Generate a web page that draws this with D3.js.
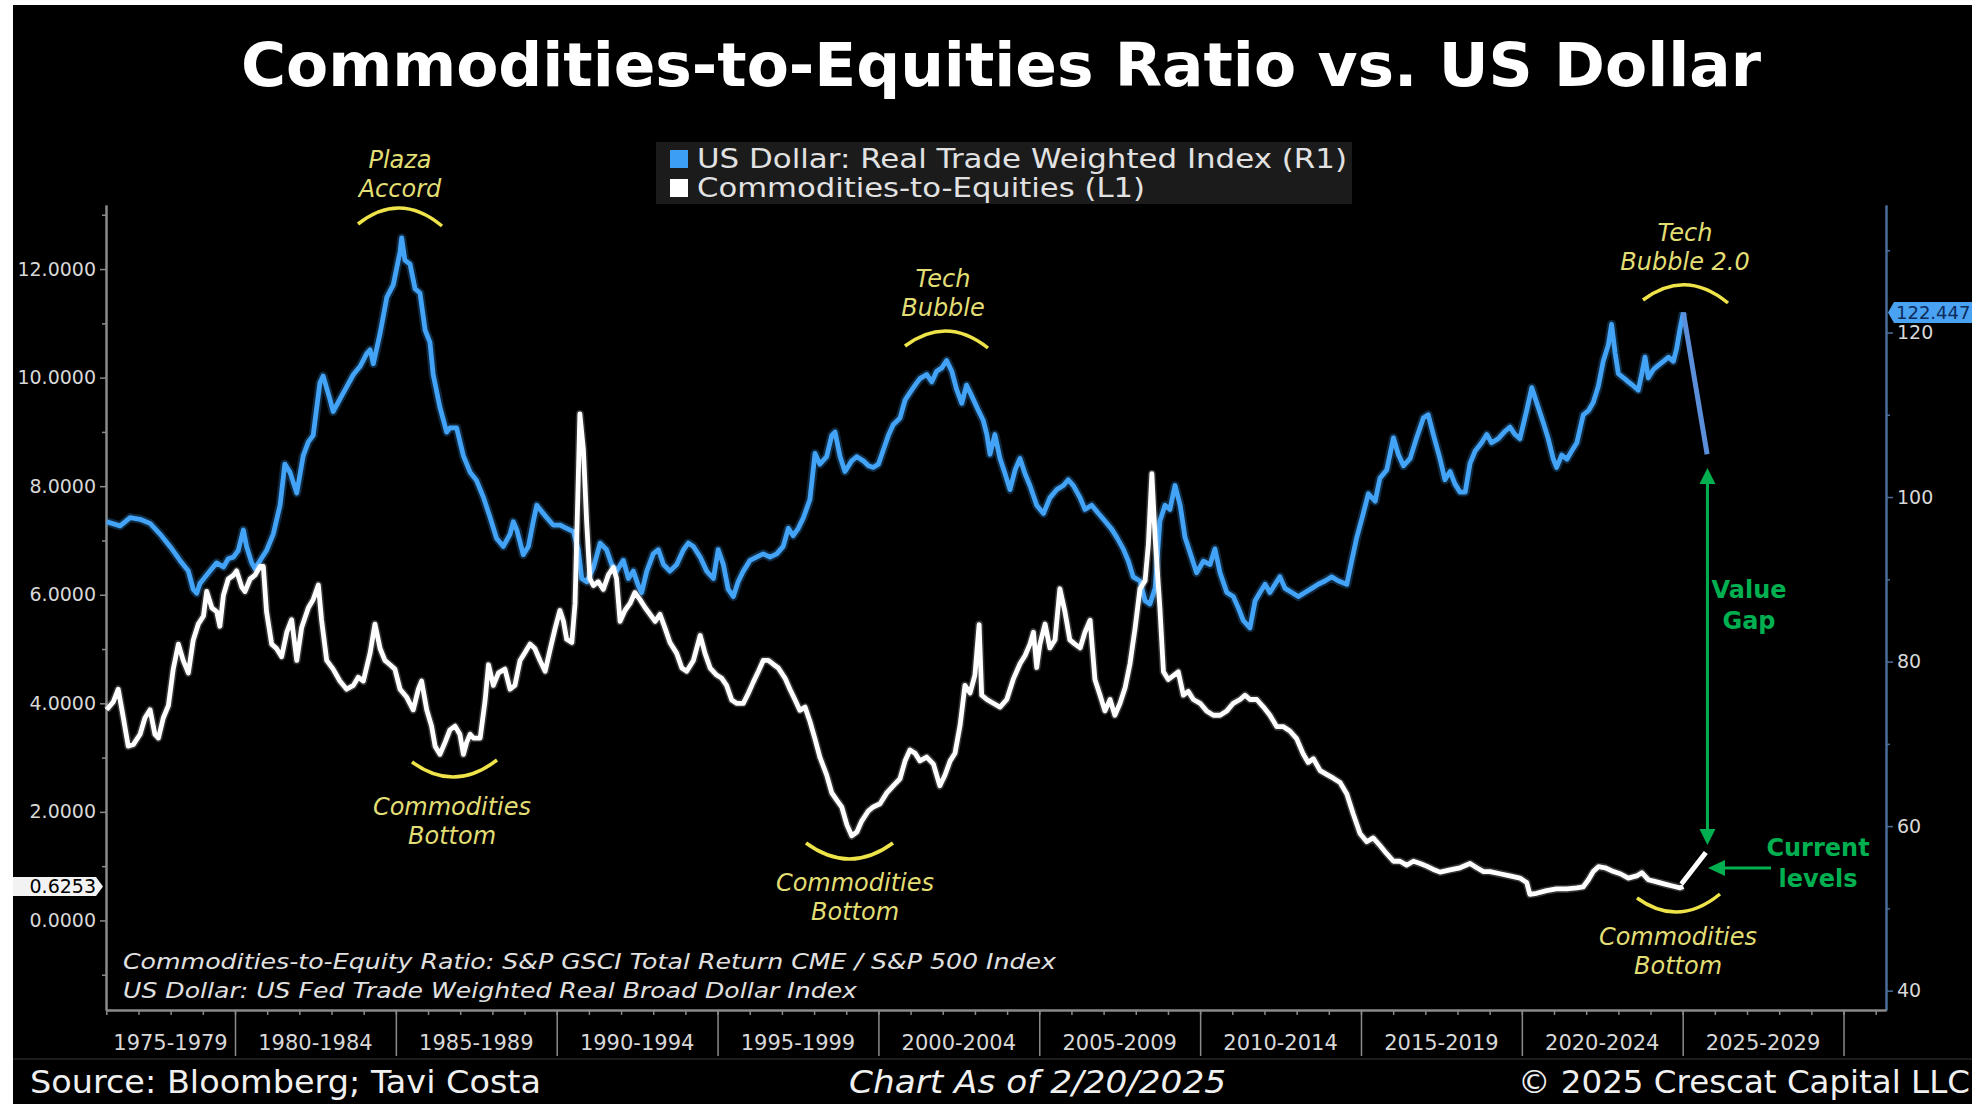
<!DOCTYPE html>
<html lang="en">
<head>
<meta charset="utf-8">
<title>Commodities-to-Equities Ratio vs. US Dollar</title>
<style>
  html, body { margin: 0; padding: 0; background: #fff; }
  svg { display: block; }
  svg text { font-family: "DejaVu Sans", sans-serif; }
</style>
</head>
<body>
<script src="https://cdn.jsdelivr.net/npm/d3@7"></script>
<script>
// US Dollar real trade weighted index (right axis), decimal years
const usdYears = [
  1976.01,1976.43,1976.74,1977.05,1977.36,1977.67,1977.98,1978.29,1978.55,1978.70,1978.81,1978.91,
  1979.22,1979.43,1979.64,1979.79,1979.95,1980.10,1980.26,1980.36,1980.52,1980.62,1980.78,1980.98,
  1981.19,1981.40,1981.55,1981.71,1981.92,1982.12,1982.28,1982.43,1982.64,1982.74,1982.95,1983.05,
  1983.26,1983.47,1983.68,1983.89,1984.09,1984.20,1984.30,1984.51,1984.72,1984.92,1985.13,1985.18,
  1985.28,1985.44,1985.60,1985.75,1985.91,1986.06,1986.16,1986.37,1986.58,1986.68,1986.89,1987.10,
  1987.31,1987.51,1987.72,1987.93,1988.13,1988.34,1988.55,1988.65,1988.76,1988.96,1989.12,1989.27,
  1989.38,1989.48,1989.69,1989.89,1990.10,1990.31,1990.52,1990.67,1990.78,1990.93,1991.14,1991.35,
  1991.55,1991.71,1991.86,1992.07,1992.23,1992.38,1992.54,1992.64,1992.80,1993.00,1993.16,1993.32,
  1993.52,1993.73,1993.94,1994.09,1994.25,1994.46,1994.66,1994.87,1995.02,1995.18,1995.33,1995.49,
  1995.64,1995.80,1996.01,1996.21,1996.42,1996.63,1996.84,1997.04,1997.20,1997.35,1997.51,1997.67,
  1997.87,1998.03,1998.18,1998.39,1998.55,1998.65,1998.81,1998.96,1999.17,1999.33,1999.53,1999.69,
  1999.84,2000.00,2000.15,2000.31,2000.46,2000.67,2000.83,2000.98,2001.14,2001.29,2001.50,2001.66,
  2001.81,2001.97,2002.12,2002.28,2002.43,2002.59,2002.74,2002.90,2003.11,2003.26,2003.37,2003.47,
  2003.62,2003.78,2003.94,2004.09,2004.25,2004.40,2004.56,2004.71,2004.92,2005.13,2005.33,2005.54,
  2005.75,2005.90,2006.06,2006.27,2006.42,2006.63,2006.84,2007.04,2007.25,2007.41,2007.61,2007.77,
  2007.92,2008.13,2008.29,2008.44,2008.60,2008.75,2008.91,2009.06,2009.22,2009.38,2009.53,2009.69,
  2009.89,2010.10,2010.31,2010.46,2010.62,2010.83,2011.03,2011.19,2011.34,2011.55,2011.71,2011.86,
  2012.02,2012.17,2012.33,2012.48,2012.64,2012.85,2013.05,2013.26,2013.47,2013.67,2013.88,2014.09,
  2014.30,2014.56,2014.71,2014.87,2015.07,2015.23,2015.44,2015.59,2015.80,2016.01,2016.16,2016.32,
  2016.53,2016.73,2016.94,2017.09,2017.25,2017.46,2017.61,2017.77,2017.92,2018.08,2018.24,2018.39,
  2018.55,2018.75,2018.91,2019.06,2019.27,2019.48,2019.63,2019.79,2019.94,2020.15,2020.31,2020.46,
  2020.67,2020.82,2020.98,2021.08,2021.24,2021.40,2021.55,2021.71,2021.91,2022.07,2022.22,2022.38,
  2022.53,2022.69,2022.79,2022.90,2023.00,2023.16,2023.31,2023.47,2023.62,2023.73,2023.83,2023.93,
  2024.09,2024.24,2024.40,2024.56,2024.71,2024.81,2024.92,2025.02
];
const usdValues = [
  97.0,96.5,97.5,97.3,96.8,95.5,94.0,92.3,91.0,88.8,88.3,89.5,
  91.0,92.0,91.5,92.5,92.7,93.5,96.0,94.0,92.0,91.3,92.3,93.5,
  95.5,99.0,104.0,103.0,100.5,105.0,106.7,107.5,113.9,114.7,111.9,110.4,
  111.9,113.4,114.9,115.9,117.4,117.9,116.2,119.9,124.3,125.8,129.8,131.5,
  128.8,128.3,125.3,124.8,120.3,118.8,114.9,110.9,107.9,108.4,108.4,105.0,
  103.0,102.0,100.0,97.5,95.0,94.0,95.5,97.0,96.0,93.0,94.0,97.0,
  99.0,98.5,97.5,96.6,96.6,96.2,95.8,93.6,90.1,89.7,91.4,94.4,
  93.6,91.8,91.0,92.3,90.1,91.0,89.2,88.4,91.0,93.1,93.6,91.8,
  91.0,91.8,93.6,94.4,94.0,92.7,91.0,90.1,93.6,91.8,88.8,87.9,
  89.7,91.0,92.3,92.7,93.1,92.7,93.1,94.0,96.2,95.3,96.2,97.5,
  99.7,105.3,104.0,104.9,107.5,107.9,104.9,103.1,104.4,104.9,104.4,103.8,
  103.6,104.0,105.7,107.5,108.8,109.6,111.8,112.7,113.6,114.4,114.9,114.0,
  115.3,115.7,116.6,115.3,113.1,111.4,113.6,112.3,110.5,109.3,107.6,105.2,
  107.6,104.7,102.8,100.9,103.3,104.7,102.8,101.4,99.0,98.0,99.9,100.9,
  101.4,102.1,101.4,99.9,98.5,99.0,98.0,97.1,96.1,95.1,93.7,92.2,
  90.3,89.8,87.4,87.0,88.9,97.1,99.0,98.5,101.4,99.0,95.1,93.2,
  90.8,92.2,91.8,93.7,90.8,88.4,87.9,86.5,85.0,84.1,87.4,88.4,
  89.4,88.4,89.4,90.3,88.9,88.4,87.9,88.4,88.9,89.4,89.8,90.3,
  89.8,89.4,92.2,95.1,98.0,100.4,99.5,102.3,103.3,107.2,105.2,103.8,
  104.7,107.2,109.6,110.0,107.6,104.6,102.1,103.1,101.6,100.6,100.6,104.1,
  105.6,106.6,107.6,106.6,107.1,108.0,108.5,107.6,107.1,110.5,113.3,111.5,
  109.0,107.1,104.6,103.6,105.1,104.6,105.6,106.6,110.0,110.5,111.5,113.5,
  116.5,118.5,121.0,117.5,115.0,114.5,114.0,113.5,113.0,115.0,117.0,114.5,
  115.5,116.0,116.5,117.0,116.5,118.0,120.5,122.447
];

// Commodities-to-equities ratio (left axis)
const ratioYears = [
  1976.01,1976.22,1976.37,1976.53,1976.68,1976.84,1977.05,1977.20,1977.36,1977.51,1977.62,1977.77,
  1977.93,1978.08,1978.24,1978.39,1978.55,1978.70,1978.86,1979.02,1979.12,1979.28,1979.43,1979.53,
  1979.64,1979.79,1979.95,1980.05,1980.21,1980.31,1980.47,1980.62,1980.78,1980.88,1980.98,1981.14,
  1981.29,1981.45,1981.61,1981.76,1981.92,1982.07,1982.28,1982.43,1982.59,1982.69,1982.85,1983.05,
  1983.26,1983.47,1983.68,1983.83,1983.99,1984.20,1984.35,1984.51,1984.66,1984.82,1984.97,1985.13,
  1985.34,1985.54,1985.70,1985.80,1985.96,1986.11,1986.22,1986.37,1986.53,1986.68,1986.84,1986.99,
  1987.10,1987.20,1987.31,1987.41,1987.62,1987.77,1987.88,1988.03,1988.19,1988.39,1988.55,1988.70,
  1988.86,1989.01,1989.17,1989.32,1989.48,1989.64,1989.79,1989.95,1990.10,1990.21,1990.31,1990.47,
  1990.57,1990.67,1990.72,1990.83,1990.93,1991.03,1991.14,1991.29,1991.45,1991.61,1991.76,1991.86,
  1991.97,1992.12,1992.28,1992.43,1992.59,1992.74,1992.90,1993.06,1993.21,1993.37,1993.52,1993.73,
  1993.89,1994.04,1994.25,1994.46,1994.61,1994.77,1994.97,1995.13,1995.28,1995.44,1995.59,1995.80,
  1995.96,1996.11,1996.27,1996.42,1996.58,1996.73,1996.89,1997.10,1997.25,1997.41,1997.56,1997.72,
  1997.87,1998.03,1998.18,1998.39,1998.55,1998.70,1998.86,1999.02,1999.17,1999.33,1999.48,1999.69,
  1999.84,2000.05,2000.26,2000.46,2000.67,2000.83,2000.98,2001.14,2001.29,2001.50,2001.71,2001.91,
  2002.07,2002.23,2002.38,2002.54,2002.69,2002.85,2003.00,2003.13,2003.21,2003.37,2003.57,2003.78,
  2003.99,2004.19,2004.40,2004.56,2004.71,2004.82,2004.92,2005.02,2005.18,2005.33,2005.49,2005.64,
  2005.80,2005.95,2006.11,2006.27,2006.42,2006.58,2006.73,2006.89,2007.04,2007.20,2007.35,2007.51,
  2007.67,2007.82,2007.98,2008.13,2008.29,2008.39,2008.50,2008.60,2008.75,2008.86,2009.01,2009.17,
  2009.32,2009.48,2009.63,2009.79,2010.00,2010.20,2010.41,2010.62,2010.83,2011.03,2011.24,2011.40,
  2011.55,2011.76,2011.97,2012.17,2012.38,2012.59,2012.79,2013.00,2013.21,2013.36,2013.52,2013.73,
  2013.93,2014.14,2014.35,2014.56,2014.76,2014.97,2015.18,2015.38,2015.59,2015.80,2016.01,2016.21,
  2016.42,2016.63,2016.84,2017.04,2017.25,2017.46,2017.77,2018.08,2018.39,2018.60,2018.81,2019.01,
  2019.32,2019.63,2019.94,2020.15,2020.25,2020.46,2020.77,2021.08,2021.40,2021.71,2021.91,2022.07,
  2022.22,2022.38,2022.59,2022.85,2023.06,2023.31,2023.57,2023.73,2023.93,2024.19,2024.45,2024.71,
  2024.92,2025.02
];
const ratioValues = [
  3.88,4.03,4.26,3.73,3.21,3.24,3.43,3.73,3.88,3.43,3.36,3.73,
  3.96,4.63,5.09,4.79,4.56,5.16,5.46,5.61,6.06,5.76,5.69,5.42,
  5.99,6.29,6.36,6.44,6.14,6.06,6.29,6.36,6.52,6.52,5.69,5.09,
  5.01,4.86,5.31,5.54,4.79,5.39,5.76,5.91,6.18,5.54,4.79,4.63,
  4.41,4.26,4.33,4.48,4.41,4.93,5.46,5.01,4.79,4.71,4.63,4.26,
  4.11,3.88,4.26,4.41,3.88,3.58,3.21,3.06,3.28,3.51,3.58,3.43,
  3.06,3.28,3.43,3.36,3.36,4.03,4.71,4.33,4.56,4.63,4.26,4.33,
  4.79,4.93,5.09,5.01,4.79,4.59,4.98,5.38,5.71,5.51,5.18,5.12,
  5.84,8.14,9.33,8.67,7.35,6.30,6.17,6.24,6.10,6.37,6.50,6.30,
  5.51,5.71,5.84,6.04,5.91,5.77,5.64,5.51,5.64,5.38,5.12,4.92,
  4.65,4.59,4.79,5.25,4.92,4.65,4.52,4.46,4.33,4.06,4.00,4.00,
  4.19,4.39,4.59,4.79,4.79,4.72,4.65,4.46,4.26,4.06,3.87,3.93,
  3.67,3.34,3.01,2.68,2.35,2.22,2.09,1.76,1.56,1.63,1.83,2.02,
  2.09,2.15,2.35,2.48,2.61,2.94,3.14,3.08,2.94,3.01,2.88,2.48,
  2.68,2.94,3.08,3.60,4.33,4.19,4.52,5.45,4.15,4.07,4.00,3.93,
  4.07,4.44,4.73,4.88,5.09,5.31,4.66,5.09,5.46,5.02,5.17,6.11,
  5.68,5.17,5.09,5.02,5.31,5.53,4.44,4.15,3.86,4.07,3.78,4.00,
  4.29,4.73,5.39,6.11,6.26,6.92,8.23,7.06,5.75,4.58,4.44,4.51,
  4.58,4.15,4.22,4.07,4.00,3.86,3.78,3.78,3.86,4.00,4.07,4.15,
  4.07,4.07,3.93,3.78,3.57,3.57,3.49,3.35,3.06,2.91,2.98,2.76,
  2.69,2.62,2.54,2.33,1.96,1.60,1.45,1.52,1.38,1.23,1.09,1.09,
  1.02,1.09,1.05,1.00,0.94,0.89,0.93,0.97,1.05,0.97,0.90,0.90,
  0.86,0.82,0.78,0.70,0.48,0.50,0.55,0.58,0.58,0.60,0.62,0.75,
  0.90,0.99,0.97,0.90,0.86,0.78,0.82,0.88,0.75,0.71,0.67,0.63,
  0.60,0.6253
];

// hand-drawn "projection" strokes added by the author
const usdProjYears = [2025.02, 2025.76];
const usdProjValues = [122.447, 105.2];
const ratioProjYears = [2024.96, 2025.72];
const ratioProjValues = [0.67, 1.25];

// axes
const leftTicks = [0, 2, 4, 6, 8, 10, 12];
const leftMinor = [-1, 1, 3, 5, 7, 9, 11, 13];
const rightTicks = [40, 60, 80, 100, 120];
const rightMinor = [50, 70, 90, 110, 130];
const periodStarts = [1975, 1980, 1985, 1990, 1995, 2000, 2005, 2010, 2015, 2020, 2025];
const periodLabels = ["1975-1979","1980-1984","1985-1989","1990-1994","1995-1999","2000-2004",
                      "2005-2009","2010-2014","2015-2019","2020-2024","2025-2029"];

const W = 1972, H = 1104;
const plotLeft = 106, plotRight = 1886, plotTop = 205, plotBottom = 1010;

const svg = d3.select("body").append("svg")
    .attr("width", W)
    .attr("height", H);

// white frame strips, black chart body
svg.append("rect").attr("width", W).attr("height", H).attr("fill", "#fff");
svg.append("rect").attr("x", 13).attr("y", 5).attr("width", W - 13).attr("height", H - 5).attr("fill", "#000");

const x = d3.scaleLinear().domain([1975.99, 2031.32]).range([plotLeft, plotRight]);
const yL = d3.scaleLinear().domain([-1.65, 13.18]).range([plotBottom, plotTop]);
const yR = d3.scaleLinear().domain([37.65, 135.5]).range([plotBottom, plotTop]);

// title
svg.append("text")
    .attr("x", 1001).attr("y", 86)
    .attr("text-anchor", "middle")
    .attr("font-size", 60).attr("font-weight", "bold")
    .attr("fill", "#fff")
    .attr("textLength", 1520).attr("lengthAdjust", "spacingAndGlyphs")
    .text("Commodities-to-Equities Ratio vs. US Dollar");

// legend
const legend = svg.append("g");
legend.append("rect").attr("x", 656).attr("y", 142).attr("width", 696).attr("height", 62).attr("fill", "#1b1b1b");
const legendItems = [
    { label: "US Dollar: Real Trade Weighted Index (R1)", color: "#3d9ef5", len: 650 },
    { label: "Commodities-to-Equities (L1)", color: "#fff", len: 448 }
];
legendItems.forEach((d, i) => {
    legend.append("rect").attr("x", 670).attr("y", 150 + i * 29).attr("width", 18).attr("height", 18).attr("fill", d.color);
    legend.append("text").attr("x", 697).attr("y", 168 + i * 29)
        .attr("font-size", 26).attr("fill", "#e2e2e2")
        .attr("textLength", d.len).attr("lengthAdjust", "spacingAndGlyphs")
        .text(d.label);
});

// axes
function styleAxis(g, color) {
    g.attr("font-family", "DejaVu Sans, sans-serif").attr("font-size", 19);
    g.selectAll("path.domain").attr("stroke", color).attr("stroke-width", 2);
    g.selectAll(".tick line").attr("stroke", color).attr("stroke-width", 1.5);
    g.selectAll(".tick text").attr("fill", "#d8d8d8");
}

svg.append("g").attr("transform", `translate(${plotLeft},0)`)
    .call(d3.axisLeft(yL).tickValues(leftMinor).tickSize(4).tickSizeOuter(0).tickFormat(""))
    .call(g => styleAxis(g, "#8a8a8a"));
svg.append("g").attr("transform", `translate(${plotLeft},0)`)
    .call(d3.axisLeft(yL).tickValues(leftTicks).tickSize(6).tickSizeOuter(0).tickPadding(4).tickFormat(d3.format(".4f")))
    .call(g => styleAxis(g, "#8a8a8a"));

svg.append("g").attr("transform", `translate(${plotRight},0)`)
    .call(d3.axisRight(yR).tickValues(rightMinor).tickSize(4).tickSizeOuter(0).tickFormat(""))
    .call(g => styleAxis(g, "#4a6d9c"));
svg.append("g").attr("transform", `translate(${plotRight},0)`)
    .call(d3.axisRight(yR).tickValues(rightTicks).tickSize(7).tickSizeOuter(0).tickPadding(4))
    .call(g => styleAxis(g, "#4a6d9c"));

svg.append("g").attr("transform", `translate(0,${plotBottom})`)
    .call(d3.axisBottom(x).tickValues(d3.range(1976, 2032)).tickSize(5).tickSizeOuter(0).tickFormat(""))
    .call(g => styleAxis(g, "#8a8a8a"));
svg.append("g").attr("transform", `translate(0,${plotBottom})`)
    .call(d3.axisBottom(x).tickValues(periodStarts.slice(1).concat([2030])).tickSize(46).tickSizeOuter(0).tickFormat(""))
    .call(g => styleAxis(g, "#8a8a8a"));

const [x0, x1] = x.domain();
svg.append("g").selectAll("text")
    .data(periodStarts)
    .join("text")
    .attr("x", d => (x(Math.max(d, x0)) + x(Math.min(d + 5, x1))) / 2)
    .attr("y", 1050)
    .attr("text-anchor", "middle")
    .attr("font-size", 21)
    .attr("fill", "#d8d8d8")
    .text((d, i) => periodLabels[i]);

// series
const usdLine = d3.line().x(d => x(d[0])).y(d => yR(d[1]));
const ratioLine = d3.line().x(d => x(d[0])).y(d => yL(d[1]));
const usdData = d3.zip(usdYears, usdValues);
const ratioData = d3.zip(ratioYears, ratioValues);

svg.append("path").datum(usdData)
    .attr("d", usdLine)
    .attr("fill", "none").attr("stroke", "#3d9ef5").attr("stroke-opacity", 0.25)
    .attr("stroke-width", 9).attr("stroke-linejoin", "round");
svg.append("path").datum(usdData)
    .attr("d", usdLine)
    .attr("fill", "none").attr("stroke", "#43a3f7")
    .attr("stroke-width", 4.8).attr("stroke-linejoin", "round");

svg.append("path").datum(ratioData)
    .attr("d", ratioLine)
    .attr("fill", "none").attr("stroke", "#fff").attr("stroke-opacity", 0.2)
    .attr("stroke-width", 8).attr("stroke-linejoin", "round");
svg.append("path").datum(ratioData)
    .attr("d", ratioLine)
    .attr("fill", "none").attr("stroke", "#fff")
    .attr("stroke-width", 4.8).attr("stroke-linejoin", "round");

svg.append("path").datum(d3.zip(usdProjYears, usdProjValues))
    .attr("d", usdLine)
    .attr("fill", "none").attr("stroke", "#5b8fd9").attr("stroke-width", 5);
svg.append("path").datum(d3.zip(ratioProjYears, ratioProjValues))
    .attr("d", ratioLine)
    .attr("fill", "none").attr("stroke", "#fff").attr("stroke-width", 5);

// last value labels
const lastUsd = usdValues[usdValues.length - 1];
const ly = yR(lastUsd);
svg.append("path")
    .attr("d", `M${plotRight + 2},${ly} L${plotRight + 8},${ly - 10.5} L${W},${ly - 10.5} L${W},${ly + 10.5} L${plotRight + 8},${ly + 10.5} Z`)
    .attr("fill", "#4aa2f2");
svg.append("text").attr("x", plotRight + 10).attr("y", ly).attr("dy", "0.36em")
    .attr("font-size", 18).attr("fill", "#0c2c5c")
    .text(d3.format(".3f")(lastUsd));

const lastRatio = ratioValues[ratioValues.length - 1];
const lr = yL(lastRatio);
svg.append("path")
    .attr("d", `M13,${lr - 9.5} L96,${lr - 9.5} L103,${lr} L96,${lr + 9.5} L13,${lr + 9.5} Z`)
    .attr("fill", "#f2f2f2");
svg.append("text").attr("x", 96).attr("y", lr).attr("dy", "0.36em")
    .attr("text-anchor", "end").attr("font-size", 19).attr("fill", "#000")
    .text(d3.format(".4f")(lastRatio));

// yellow annotations: text lines and arcs
const yellowText = "#e2de74", yellowArc = "#eee44a";
const notes = [
    { lines: ["Plaza", "Accord"], cx: 400, y: 168, arc: [358, 224, 191, 442, 226] },
    { lines: ["Tech", "Bubble"], cx: 943, y: 287, arc: [905, 346, 315, 988, 348] },
    { lines: ["Tech", "Bubble 2.0"], cx: 1685, y: 241, arc: [1643, 300, 268, 1728, 303] },
    { lines: ["Commodities", "Bottom"], cx: 452, y: 815, arc: [412, 762, 793, 497, 760] },
    { lines: ["Commodities", "Bottom"], cx: 855, y: 891, arc: [806, 843, 875, 893, 843] },
    { lines: ["Commodities", "Bottom"], cx: 1678, y: 945, arc: [1637, 898, 928, 1720, 894] }
];
const noteG = svg.append("g");
notes.forEach(n => {
    n.lines.forEach((t, i) => {
        noteG.append("text")
            .attr("x", n.cx).attr("y", n.y + i * 29)
            .attr("text-anchor", "middle")
            .attr("font-size", 24).attr("font-style", "italic")
            .attr("fill", yellowText)
            .text(t);
    });
    const [ax, ay, cy, bx, by] = n.arc;
    noteG.append("path")
        .attr("d", `M${ax},${ay} Q${(ax + bx) / 2},${cy} ${bx},${by}`)
        .attr("fill", "none").attr("stroke", yellowArc).attr("stroke-width", 3.5);
});

// green annotations
const green = "#00b050";
const gx = x(2025.77);
const gTop = 468, gBot = 845;
svg.append("line").attr("x1", gx).attr("x2", gx).attr("y1", gTop + 12).attr("y2", gBot - 12)
    .attr("stroke", green).attr("stroke-width", 3);
svg.append("path").attr("d", `M${gx},${gTop} L${gx - 8},${gTop + 16} L${gx + 8},${gTop + 16} Z`).attr("fill", green);
svg.append("path").attr("d", `M${gx},${gBot} L${gx - 8},${gBot - 16} L${gx + 8},${gBot - 16} Z`).attr("fill", green);

svg.append("line").attr("x1", 1771).attr("x2", 1720).attr("y1", 868).attr("y2", 868)
    .attr("stroke", green).attr("stroke-width", 3);
svg.append("path").attr("d", `M1708,868 L1725,860 L1725,876 Z`).attr("fill", green);

const greenNotes = [
    { t: "Value", x: 1749, y: 598 },
    { t: "Gap", x: 1749, y: 629 },
    { t: "Current", x: 1818, y: 856 },
    { t: "levels", x: 1818, y: 887 }
];
svg.append("g").selectAll("text")
    .data(greenNotes)
    .join("text")
    .attr("x", d => d.x).attr("y", d => d.y)
    .attr("text-anchor", "middle")
    .attr("font-family", "Open Sans, sans-serif")
    .attr("font-weight", "bold").attr("font-size", 24)
    .attr("fill", green)
    .text(d => d.t);

// source notes in plot
const sourceNotes = [
    { t: "Commodities-to-Equity Ratio: S&P GSCI Total Return CME / S&P 500 Index", y: 969, len: 933 },
    { t: "US Dollar: US Fed Trade Weighted Real Broad Dollar Index", y: 998, len: 734 }
];
svg.append("g").selectAll("text")
    .data(sourceNotes)
    .join("text")
    .attr("x", 123).attr("y", d => d.y)
    .attr("font-size", 21).attr("font-style", "italic")
    .attr("fill", "#e0e0e0")
    .attr("textLength", d => d.len).attr("lengthAdjust", "spacingAndGlyphs")
    .text(d => d.t);

// footer
svg.append("line").attr("x1", 13).attr("x2", W).attr("y1", 1059).attr("y2", 1059)
    .attr("stroke", "#1c1c1c").attr("stroke-width", 2);
const footer = [
    { t: "Source: Bloomberg; Tavi Costa", x: 30, len: 511, italic: false },
    { t: "Chart As of 2/20/2025", x: 849, len: 377, italic: true },
    { t: "\u00A9 2025 Crescat Capital LLC", x: 1518, len: 452, italic: false }
];
svg.append("g").selectAll("text")
    .data(footer)
    .join("text")
    .attr("x", d => d.x).attr("y", 1093)
    .attr("font-size", 32)
    .attr("font-style", d => d.italic ? "italic" : "normal")
    .attr("fill", "#f0f0f0")
    .attr("textLength", d => d.len).attr("lengthAdjust", "spacingAndGlyphs")
    .text(d => d.t);
</script>
</body>
</html>
